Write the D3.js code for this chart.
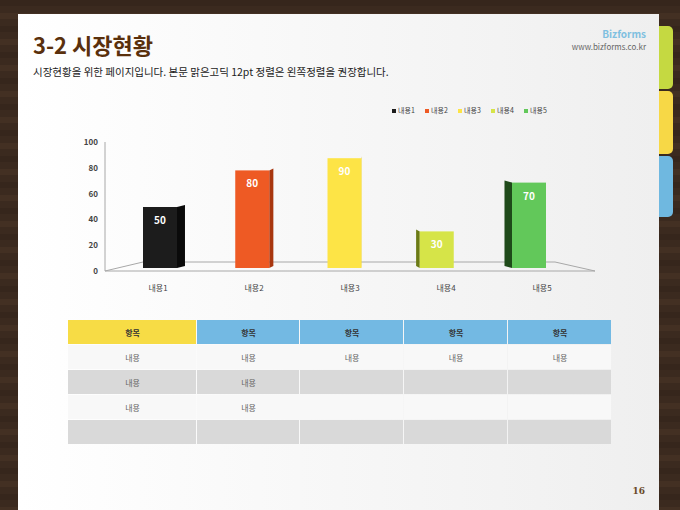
<!DOCTYPE html>
<html><head><meta charset="utf-8">
<script src="https://cdn.jsdelivr.net/npm/d3@7"></script>
<style>body{margin:0;background:#3b2a1f;overflow:hidden}</style>
</head><body>
<div id="slide"></div>
<script>
const data = [
    {name: "내용1", value: 50, color: "#1c1c1c", side: "#0a0a0a"},
    {name: "내용2", value: 80, color: "#ee5a24", side: "#a8360f"},
    {name: "내용3", value: 90, color: "#fde446", side: "#c9b020"},
    {name: "내용4", value: 30, color: "#d6e448", side: "#6b7a16"},
    {name: "내용5", value: 70, color: "#62c85a", side: "#1f4a1a"}
]
const tabs = [
    {y0: 25, y1: 90, color: "#c5d941"},
    {y0: 90, y1: 155, color: "#f7d846"},
    {y0: 155, y1: 218, color: "#6fb8e0"}
]
const table = [
    ["항목", "항목", "항목", "항목", "항목"],
    ["내용", "내용", "내용", "내용", "내용"],
    ["내용", "내용", "", "", ""],
    ["내용", "내용", "", "", ""],
    ["", "", "", "", ""]
]
const font = "'Noto Sans CJK KR', sans-serif"

const svg = d3.select("#slide").append("svg").attr("width", 680).attr("height", 510)

// wood background stripes
const bg = svg.append("g")
for (let i = 0; i < 40; i++) {
    bg.append("rect").attr("x", 0).attr("y", i * 13).attr("width", 680).attr("height", 6)
        .attr("fill", i % 2 ? "#4a3527" : "#33241a").attr("opacity", 0.6)
}

svg.selectAll(".tab").data(tabs).join("rect")
    .attr("x", 650).attr("y", d => d.y0 + 1).attr("width", 23).attr("height", d => d.y1 - d.y0 - 2)
    .attr("rx", 5).attr("fill", d => d.color)

const grad = svg.append("defs").append("linearGradient").attr("id", "pg")
grad.append("stop").attr("offset", "0").attr("stop-color", "#ffffff")
grad.append("stop").attr("offset", "1").attr("stop-color", "#efefef")
svg.append("rect").attr("x", 18).attr("y", 14).attr("width", 641).attr("height", 500).attr("fill", "url(#pg)")

svg.append("text").attr("x", 33).attr("y", 54).text("3-2 시장현황")
    .style("font-family", font).style("font-size", "22px").style("font-weight", "bold").attr("fill", "#5a300c")
svg.append("text").attr("x", 33).attr("y", 76).text("시장현황을 위한 페이지입니다. 본문 맑은고딕 12pt 정렬은 왼쪽정렬을 권장합니다.")
    .style("font-family", font).style("font-size", "10.5px").attr("fill", "#222")
svg.append("text").attr("x", 646).attr("y", 38).attr("text-anchor", "end").text("Bizforms")
    .style("font-family", font).style("font-size", "10px").style("font-weight", "bold").attr("fill", "#7fc0e0")
svg.append("text").attr("x", 646).attr("y", 50).attr("text-anchor", "end").text("www.bizforms.co.kr")
    .style("font-family", font).style("font-size", "8px").attr("fill", "#666")
svg.append("text").attr("x", 645).attr("y", 494).attr("text-anchor", "end").text("16")
    .style("font-family", "'DejaVu Serif', serif").style("font-size", "9px").style("font-weight", "bold").attr("fill", "#6b4a2a")

// legend
const lg = svg.append("g").selectAll("g").data(data).join("g")
    .attr("transform", (d, i) => `translate(${392 + i * 33},113)`)
lg.append("rect").attr("y", -4).attr("width", 4).attr("height", 4).attr("fill", d => d.color)
lg.append("text").attr("x", 6).attr("y", 0).text(d => d.name)
    .style("font-family", font).style("font-size", "7px").attr("fill", "#444")

// chart
const y = d3.scaleLinear().domain([0, 100]).range([271, 142])
const yb = d3.scaleLinear().domain([0, 100]).range([268, 146])
const xl = d3.scaleBand().domain(data.map(d => d.name)).range([110, 590])
const xb = d3.scalePoint().domain(data.map(d => d.name)).range([160, 529])
const bw = 34

svg.append("path").attr("d", "M105,271 L143,262 L555,262 L595,271 Z")
    .attr("fill", "none").attr("stroke", "#a8a8a8").attr("stroke-width", 1)
svg.append("line").attr("x1", 105).attr("x2", 105).attr("y1", y(100)).attr("y2", y(0)).attr("stroke", "#a8a8a8")

svg.append("g").selectAll("text").data(y.ticks(5)).join("text")
    .attr("x", 98).attr("y", d => y(d) + 3).attr("text-anchor", "end").text(d => d)
    .style("font-family", font).style("font-size", "8px").style("font-weight", "bold").attr("fill", "#444")

const bars = svg.append("g").selectAll("g").data(data).join("g")
bars.append("path").attr("fill", d => d.side).attr("d", d => {
    const cx = xb(d.name), off = (350 - cx) * 0.042
    const ex = off > 0 ? cx + bw / 2 : cx - bw / 2
    return `M${ex},${yb(d.value)} L${ex + off},${yb(d.value) - 2} L${ex + off},${yb(0) - 2} L${ex},${yb(0)} Z`
})
bars.append("rect").attr("x", d => xb(d.name) - bw / 2).attr("y", d => yb(d.value))
    .attr("width", bw).attr("height", d => yb(0) - yb(d.value)).attr("fill", d => d.color)
bars.append("text").attr("x", d => xb(d.name)).attr("y", d => yb(d.value) + 17).attr("text-anchor", "middle")
    .text(d => d.value).style("font-family", font).style("font-size", "10px").style("font-weight", "bold").attr("fill", "#fff")

svg.append("g").selectAll("text").data(data).join("text")
    .attr("x", d => xl(d.name) + xl.bandwidth() / 2).attr("y", 291).attr("text-anchor", "middle").text(d => d.name)
    .style("font-family", font).style("font-size", "8px").attr("fill", "#444")

// table
const cols = [68, 197, 300, 404, 508, 612]
const rowH = 25
table.forEach((row, r) => {
    row.forEach((cell, c) => {
        let fill = r == 0 ? (c == 0 ? "#f7dc45" : "#73b9e3") : (r % 2 ? "#f8f8f8" : "#d9d9d9")
        svg.append("rect").attr("x", cols[c]).attr("y", 320 + r * rowH)
            .attr("width", cols[c + 1] - cols[c] - 1).attr("height", rowH - 1).attr("fill", fill)
        svg.append("text").attr("x", (cols[c] + cols[c + 1]) / 2).attr("y", 320 + r * rowH + 16)
            .attr("text-anchor", "middle").text(cell).style("font-family", font).style("font-size", "8px")
            .style("font-weight", r == 0 ? "bold" : "normal").attr("fill", r == 0 ? "#333" : "#666")
    })
})
</script>
</body></html>
